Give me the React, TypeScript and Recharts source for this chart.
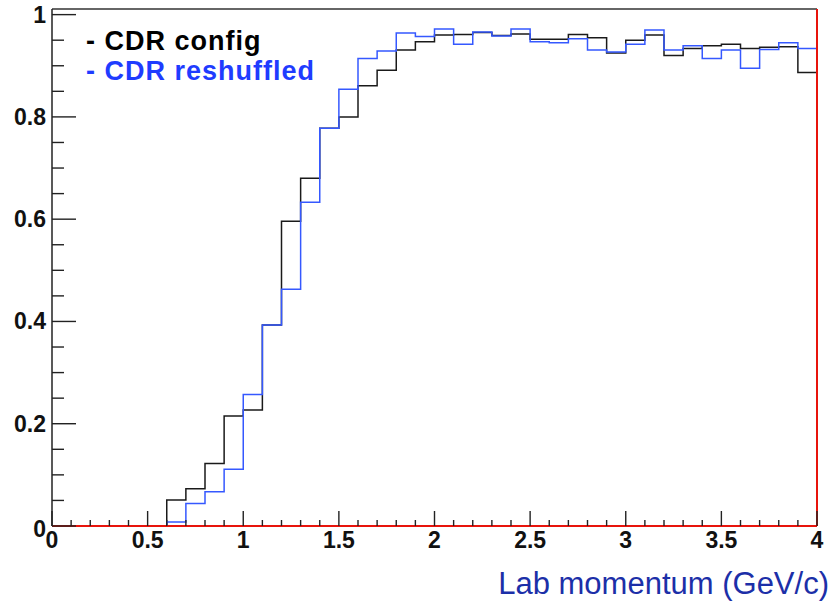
import { LineChart, Line, XAxis, YAxis, ReferenceLine } from "recharts";

// bin low edges (GeV/c), last entry closes the final bin
const binEdges = [
  0, 0.1, 0.2, 0.3, 0.4, 0.5, 0.6, 0.7, 0.8, 0.9,
  1.0, 1.1, 1.2, 1.3, 1.4, 1.5, 1.6, 1.7, 1.8, 1.9,
  2.0, 2.1, 2.2, 2.3, 2.4, 2.5, 2.6, 2.7, 2.8, 2.9,
  3.0, 3.1, 3.2, 3.3, 3.4, 3.5, 3.6, 3.7, 3.8, 3.9, 4.0,
];

const cdrConfig = [
  0, 0, 0, 0, 0, 0, 0.051, 0.073, 0.122, 0.215,
  0.227, 0.393, 0.596, 0.68, 0.778, 0.8, 0.861, 0.891, 0.931, 0.947,
  0.96, 0.961, 0.965, 0.959, 0.962, 0.952, 0.952, 0.961, 0.955, 0.925,
  0.95, 0.96, 0.92, 0.934, 0.939, 0.942, 0.934, 0.936, 0.937, 0.887,
];

const cdrReshuffled = [
  0, 0, 0, 0, 0, 0, 0.008, 0.044, 0.067, 0.111,
  0.257, 0.393, 0.463, 0.633, 0.778, 0.854, 0.914, 0.929, 0.964, 0.957,
  0.972, 0.942, 0.966, 0.958, 0.972, 0.947, 0.945, 0.953, 0.931, 0.927,
  0.942, 0.97, 0.931, 0.939, 0.914, 0.931, 0.895, 0.932, 0.945, 0.934,
];

const xTicks = binEdges;
const xLabels: Record<string, string> = {
  "0": "0", "0.5": "0.5", "1": "1", "1.5": "1.5", "2": "2",
  "2.5": "2.5", "3": "3", "3.5": "3.5", "4": "4",
};

const yTicks = [
  0, 0.05, 0.1, 0.15, 0.2, 0.25, 0.3, 0.35, 0.4, 0.45, 0.5,
  0.55, 0.6, 0.65, 0.7, 0.75, 0.8, 0.85, 0.9, 0.95, 1.0,
];
const yLabels: Record<string, string> = {
  "0": "0", "0.2": "0.2", "0.4": "0.4", "0.6": "0.6", "0.8": "0.8", "1": "1",
};

const Y_MAX = 1.011;

// stepAfter needs one point per edge; the closing edge repeats the last bin
const data = binEdges.map((x, i) => ({
  x,
  config: cdrConfig[Math.min(i, cdrConfig.length - 1)],
  reshuffled: cdrReshuffled[Math.min(i, cdrReshuffled.length - 1)],
}));

const FONT = "'Liberation Sans', Arial, Helvetica, sans-serif";

function XTick(props: any) {
  const { x, y, payload } = props;
  const key = String(Math.round(payload.value * 10) / 10);
  const label = xLabels[key];
  return (
    <g>
      <line x1={x} x2={x} y1={y} y2={y - (label ? 15 : 6)} stroke="#222" strokeWidth={1.4} />
      {label && (
        <text x={x} y={y + 22} textAnchor="middle" fontFamily={FONT} fontWeight="bold" fontSize={23} fill="#111">
          {label}
        </text>
      )}
    </g>
  );
}

function YTick(props: any) {
  const { x, y, payload } = props;
  const key = String(Math.round(payload.value * 100) / 100);
  const label = yLabels[key];
  return (
    <g>
      <line x1={x} x2={x + (label ? 24 : 12)} y1={y} y2={y} stroke="#222" strokeWidth={1.4} />
      {label && (
        <text x={x - 6} y={y + (key === "0" ? 11 : 8)} textAnchor="end" fontFamily={FONT} fontWeight="bold" fontSize={23} fill="#111">
          {label}
        </text>
      )}
    </g>
  );
}

export default function App() {
  return (
    <div style={{ position: "relative", width: 831, height: 603, background: "#fff", fontFamily: FONT }}>
      <style>{`body{margin:0}`}</style>
      <LineChart
        width={831}
        height={603}
        data={data}
        margin={{ top: 9, right: 14, left: 0, bottom: 0 }}
      >
        <XAxis
          dataKey="x"
          type="number"
          domain={[0, 4]}
          ticks={xTicks}
          interval={0}
          tickSize={0}
          tickMargin={0}
          height={77}
          tick={<XTick />}
          axisLine={{ stroke: "#e8140c", strokeWidth: 2.2 }}
        />
        <YAxis
          type="number"
          domain={[0, Y_MAX]}
          ticks={yTicks}
          interval={0}
          tickSize={0}
          tickMargin={0}
          width={52}
          tick={<YTick />}
          allowDataOverflow
          axisLine={{ stroke: "#222", strokeWidth: 1.5 }}
        />
        <ReferenceLine y={Y_MAX} stroke="#333" strokeWidth={1.5} />
        <Line
          dataKey="config"
          type="stepAfter"
          stroke="#1a1a1a"
          strokeWidth={1.5}
          dot={false}
          isAnimationActive={false}
        />
        <Line
          dataKey="reshuffled"
          type="stepAfter"
          stroke="#3558ff"
          strokeWidth={1.5}
          dot={false}
          isAnimationActive={false}
        />
        <ReferenceLine x={4} stroke="#e8140c" strokeWidth={2} />
      </LineChart>
      <div style={{ position: "absolute", left: 86, top: 26, fontSize: 27, letterSpacing: 1, fontWeight: "bold", color: "#000", lineHeight: "30px" }}>
        - CDR config
      </div>
      <div style={{ position: "absolute", left: 86, top: 56, fontSize: 27, letterSpacing: 1, fontWeight: "bold", color: "#1f3cff", lineHeight: "30px" }}>
        - CDR reshuffled
      </div>
      <div style={{ position: "absolute", right: 2, top: 566, fontSize: 31, color: "#1c2fa8", lineHeight: "36px" }}>
        Lab momentum (GeV/c)
      </div>
    </div>
  );
}
